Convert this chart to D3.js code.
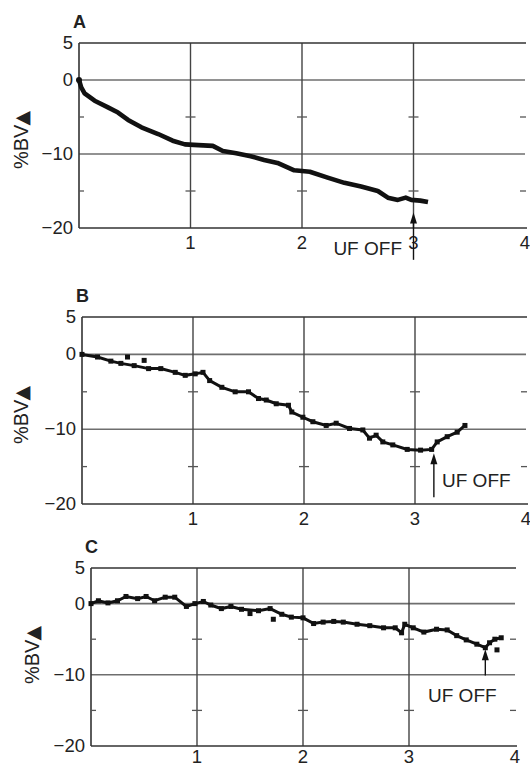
<!DOCTYPE html>
<html>
<head>
<meta charset="utf-8">
<script src="https://cdn.jsdelivr.net/npm/d3@7"></script>
<style>
  body { margin: 0; background: #fff; }
  text { font-family: "Liberation Sans", Arial, sans-serif; fill: #222; }
</style>
</head>
<body>
<div id="chart"></div>
<script>
// hours of dialysis vs change in blood volume (%)
const xTicks = [1, 2, 3, 4];
const yTicks = [5, 0, -10, -20];
const minorY = [-5, -15];

const aTime = [0, 0.02, 0.05, 0.14, 0.26, 0.35, 0.44, 0.56, 0.71, 0.84, 0.95, 1.07, 1.2, 1.29, 1.41, 1.54, 1.66, 1.78, 1.93, 2.07, 2.23, 2.38, 2.53, 2.68, 2.77, 2.86, 2.93, 2.98, 3.06, 3.13];
const aBV = [0, -1.0, -1.8, -2.8, -3.7, -4.4, -5.4, -6.4, -7.3, -8.2, -8.7, -8.8, -8.9, -9.6, -9.9, -10.3, -10.8, -11.2, -12.2, -12.4, -13.2, -13.9, -14.4, -15.0, -15.9, -16.2, -15.9, -16.2, -16.3, -16.5];

const bTime = [0, 0.14, 0.26, 0.35, 0.47, 0.6, 0.71, 0.84, 0.93, 1.02, 1.09, 1.15, 1.26, 1.38, 1.5, 1.59, 1.66, 1.75, 1.86, 1.89, 1.99, 2.08, 2.2, 2.29, 2.41, 2.53, 2.59, 2.65, 2.71, 2.8, 2.93, 3.05, 3.15, 3.2, 3.29, 3.38, 3.45];
const bBV = [0, -0.35, -0.9, -1.2, -1.5, -1.9, -1.9, -2.4, -2.8, -2.6, -2.4, -3.5, -4.4, -5.0, -5.0, -5.9, -6.1, -6.6, -6.8, -7.7, -8.4, -9.0, -9.5, -9.2, -9.9, -10.1, -11.2, -10.8, -11.7, -12.1, -12.7, -12.8, -12.7, -11.7, -11.0, -10.4, -9.5];
const bStrayTime = [0.41, 0.56];
const bStrayBV = [-0.35, -0.8];

const cTime = [0, 0.07, 0.16, 0.25, 0.33, 0.44, 0.52, 0.6, 0.7, 0.79, 0.9, 0.98, 1.06, 1.13, 1.23, 1.32, 1.42, 1.58, 1.69, 1.8, 1.89, 2.0, 2.1, 2.19, 2.29, 2.38, 2.51, 2.63, 2.76, 2.87, 2.93, 2.96, 3.04, 3.14, 3.26, 3.36, 3.45, 3.54, 3.64, 3.72, 3.76, 3.81, 3.87];
const cBV = [0, 0.4, 0.1, 0.4, 1.0, 0.7, 1.0, 0.4, 0.9, 0.9, -0.4, 0, 0.3, -0.2, -0.7, -0.4, -0.8, -1.0, -0.7, -1.5, -1.9, -2.0, -2.8, -2.6, -2.5, -2.6, -2.9, -3.1, -3.4, -3.4, -4.1, -2.9, -3.4, -4.0, -3.6, -3.7, -4.5, -5.1, -5.7, -6.2, -5.5, -5.0, -4.8];
const cStrayTime = [1.5, 1.72, 3.83];
const cStrayBV = [-1.4, -2.2, -6.5];

const ufOffTime = [3.0, 3.17, 3.72];

const width = 530, height = 769;

const svg = d3.select("#chart").append("svg")
  .attr("width", width)
  .attr("height", height)
  .style("background", "#fff");

let panels = [
  { id: "A", left: 79, right: 525, top: 43, bottom: 228, titleX: 21, titleY: 140, xLabY: 21,
    time: aTime, bv: aBV, strayT: [], strayV: [], style: "line",
    arrow: { t: ufOffTime[0], tip: -17.9, base: -24.3 }, label: { x: 402, y: 255, anchor: "end" } },
  { id: "B", left: 82, right: 526, top: 317, bottom: 504, titleX: 21, titleY: 415, xLabY: 21,
    time: bTime, bv: bBV, strayT: bStrayTime, strayV: bStrayBV, style: "dots",
    arrow: { t: ufOffTime[1], tip: -13.2, base: -19.1 }, label: { x: 442, y: 487, anchor: "start" } },
  { id: "C", left: 91, right: 515, top: 568, bottom: 746, titleX: 32, titleY: 655, xLabY: 17,
    time: cTime, bv: cBV, strayT: cStrayTime, strayV: cStrayBV, style: "dots",
    arrow: { t: ufOffTime[2], tip: -6.4, base: -10.1 }, label: { x: 428, y: 702, anchor: "start" } },
];

function fmt(v) {
  return v < 0 ? "\u2212" + Math.abs(v) : String(v);
}

function drawPanel(p) {
  let x = d3.scaleLinear().domain([0, 4]).range([p.left, p.right]);
  let y = d3.scaleLinear().domain([-20, 5]).range([p.bottom, p.top]);
  let g = svg.append("g").attr("id", "panel" + p.id);

  // horizontal grid lines at 0 and -10
  g.selectAll(".hgrid")
    .data([0, -10])
    .enter()
    .append("line")
    .attr("x1", p.left).attr("x2", p.right)
    .attr("y1", (d) => y(d)).attr("y2", (d) => y(d))
    .attr("stroke", "#6e6e6e")
    .attr("stroke-width", 1.6);

  // vertical grid lines at 1,2,3
  g.selectAll(".vgrid")
    .data([1, 2, 3])
    .enter()
    .append("line")
    .attr("x1", (d) => x(d)).attr("x2", (d) => x(d))
    .attr("y1", p.top).attr("y2", p.bottom)
    .attr("stroke", "#444")
    .attr("stroke-width", 1.4);

  // frame: top, bottom, left
  g.append("line").attr("x1", p.left).attr("x2", p.right + 1)
    .attr("y1", y(5)).attr("y2", y(5))
    .attr("stroke", "#333").attr("stroke-width", 1.6);
  g.append("line").attr("x1", p.left).attr("x2", p.right + 2)
    .attr("y1", y(-20)).attr("y2", y(-20))
    .attr("stroke", "#333").attr("stroke-width", 1.6);
  g.append("line").attr("x1", p.left).attr("x2", p.left)
    .attr("y1", y(5)).attr("y2", y(-20))
    .attr("stroke", "#333").attr("stroke-width", 1.6);

  // small dashes at -5 and -15
  minorY.forEach((v) => {
    g.append("line").attr("x1", p.left).attr("x2", p.left + 5)
      .attr("y1", y(v)).attr("y2", y(v))
      .attr("stroke", "#555").attr("stroke-width", 1.3);
    xTicks.forEach((t) => {
      g.append("line")
        .attr("x1", x(t) - 5).attr("x2", t === 4 ? x(t) + 1 : x(t) + 5)
        .attr("y1", y(v)).attr("y2", y(v))
        .attr("stroke", "#555").attr("stroke-width", 1.3);
    });
  });

  // tick labels
  g.selectAll(".ylab")
    .data(yTicks)
    .enter()
    .append("text")
    .attr("x", p.left - 6)
    .attr("y", (d) => y(d) + 6)
    .attr("text-anchor", "end")
    .attr("font-size", 18.5)
    .text((d) => fmt(d));

  g.selectAll(".xlab")
    .data(xTicks)
    .enter()
    .append("text")
    .attr("x", (d) => x(d))
    .attr("y", p.bottom + p.xLabY)
    .attr("text-anchor", "middle")
    .attr("font-size", 18.5)
    .text((d) => d);

  // panel letter
  g.append("text")
    .attr("x", p.left - 6)
    .attr("y", p.top - 15)
    .attr("font-size", 18)
    .attr("font-weight", "bold")
    .text(p.id);

  // axis title
  let title = g.append("text")
    .attr("transform", `translate(${p.titleX + 7},${p.titleY}) rotate(-90)`)
    .attr("text-anchor", "middle")
    .attr("font-size", 20);
  title.append("tspan").text("%BV");
  title.append("tspan")
    .attr("font-family", "DejaVu Sans")
    .attr("font-size", 19)
    .attr("dx", -1)
    .text("\u25B2");

  // data
  let pts = p.time.map((t, i) => [t, p.bv[i]]);
  let line = d3.line().x((d) => x(d[0])).y((d) => y(d[1]));

  if (p.style === "line") {
    g.append("path")
      .attr("d", line(pts))
      .attr("fill", "none")
      .attr("stroke", "#111")
      .attr("stroke-width", 4.6)
      .attr("stroke-linejoin", "round");
    g.append("circle")
      .attr("cx", x(0)).attr("cy", y(0)).attr("r", 3)
      .attr("fill", "#111");
  } else {
    g.append("path")
      .attr("d", line(pts))
      .attr("fill", "none")
      .attr("stroke", "#111")
      .attr("stroke-width", 3);
    let stray = p.strayT.map((t, i) => [t, p.strayV[i]]);
    g.selectAll(".pt")
      .data(pts.concat(stray))
      .enter()
      .append("rect")
      .attr("x", (d) => x(d[0]) - 2.5)
      .attr("y", (d) => y(d[1]) - 2.5)
      .attr("width", 5)
      .attr("height", 5)
      .attr("fill", "#111");
  }

  // UF OFF arrow
  let ax = x(p.arrow.t);
  let tipY = y(p.arrow.tip);
  g.append("line")
    .attr("x1", ax).attr("x2", ax)
    .attr("y1", tipY + 6).attr("y2", y(p.arrow.base))
    .attr("stroke", "#111").attr("stroke-width", 1.4);
  g.append("path")
    .attr("d", `M${ax},${tipY} L${ax - 3.5},${tipY + 11} L${ax + 3.5},${tipY + 11} Z`)
    .attr("fill", "#111");
  g.append("text")
    .attr("x", p.label.x)
    .attr("y", p.label.y)
    .attr("text-anchor", p.label.anchor)
    .attr("font-size", 19)
    .text("UF OFF");
}

panels.forEach(drawPanel);
</script>
</body>
</html>
